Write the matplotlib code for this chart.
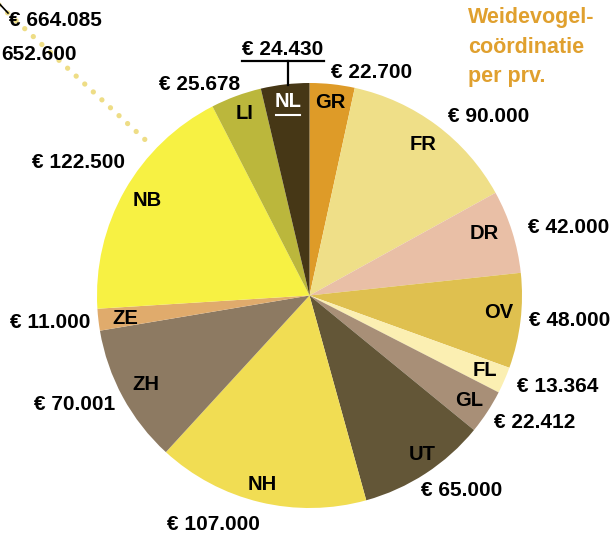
import matplotlib
matplotlib.use("Agg")
import matplotlib.pyplot as plt

plt.rcParams['font.family'] = ['Liberation Sans', 'DejaVu Sans']

# ---- data ----
provinces = ["GR", "FR", "DR", "OV", "FL", "GL", "UT", "NH", "ZH", "ZE", "NB", "LI", "NL"]
amounts = [22700, 90000, 42000, 48000, 13364, 22412, 65000, 107000, 70001, 11000, 122500, 25678, 24430]
value_labels = ["€ 22.700", "€ 90.000", "€ 42.000", "€ 48.000", "€ 13.364", "€ 22.412",
                "€ 65.000", "€ 107.000", "€ 70.001", "€ 11.000", "€ 122.500", "€ 25.678", "€ 24.430"]
total_label = "€ 664.085"
other_label = "652.600"
title_lines = ["Weidevogel-", "coördinatie", "per prv."]

# ---- style / layout ----
colors = ["#de9b28", "#efdf88", "#e9bfa6", "#dfc04f", "#fbefb2", "#a88f77", "#635637",
          "#f1dd53", "#8d7a62", "#e0ab6c", "#f7f143", "#bbb73c", "#463716"]
W, H = 615, 535
cx, cy, R = 309.5, 295.5, 212.5

def P(x, y):
    return x, H - y

inner_pos = [(330, 103), (423, 145), (484, 233.5), (498.5, 312), (485, 370), (469, 400),
             (422, 455), (262, 484), (145.5, 384.5), (125.5, 318), (147, 200.5), (245, 113.5),
             (288, 101.5)]
value_pos = [(372, 72), (489, 117), (569, 227.5), (570, 321), (558, 386), (535, 422),
             (462, 490), (213, 525), (75, 405), (50, 322), (79, 162), (200, 85), (283, 49.5)]

fig = plt.figure(figsize=(W / 100, H / 100), dpi=100)
ax = fig.add_axes([0, 0, 1, 1])

wedges, _ = ax.pie(amounts, colors=colors, startangle=90, counterclock=False,
                   radius=R, center=P(cx, cy), wedgeprops=dict(linewidth=0))
ax.set_xlim(0, W)
ax.set_ylim(0, H)
ax.set_aspect('auto')
ax.axis('off')

# dotted leader from top-left to NB slice
ax.plot([-2, 153], [H - 4, H - 147], color="#eedd86", lw=3.8, linestyle=(0, (0.01, 2.2)),
        dash_capstyle='round', zorder=1)
ax.plot([-6, 8], [H + 2, H - 13], color="black", lw=1.2, zorder=3)

for name, (x, y) in zip(provinces, inner_pos):
    col = "white" if name == "NL" else "black"
    ax.text(*P(x, y), name, ha='center', va='center', fontsize=14.5, fontweight='bold',
            color=col, zorder=5)

# NL underline and leader
ax.plot([276, 300], [H - 115, H - 115], color="white", lw=1.5, zorder=5)
ax.plot([242, 324], [H - 61, H - 61], color="black", lw=1.6, zorder=5)
ax.plot([288, 288], [H - 61, H - 85], color="black", lw=1.6, zorder=5)

for lab, (x, y) in zip(value_labels, value_pos):
    ax.text(*P(x, y), lab, ha='center', va='center', fontsize=15, fontweight='bold',
            color="black", zorder=5)

ax.text(*P(55, 20.5), total_label, ha='center', va='center', fontsize=15, fontweight='bold', zorder=5)
ax.text(*P(39, 54.5), other_label, ha='center', va='center', fontsize=15, fontweight='bold', zorder=5)

for line, yb in zip(title_lines, [22.7, 53.3, 81.7]):
    ax.text(*P(468, yb), line, ha='left', va='baseline', fontsize=15.5, fontweight='bold',
            color="#e0a02e", zorder=5)

fig.savefig("out.png", dpi=100)
